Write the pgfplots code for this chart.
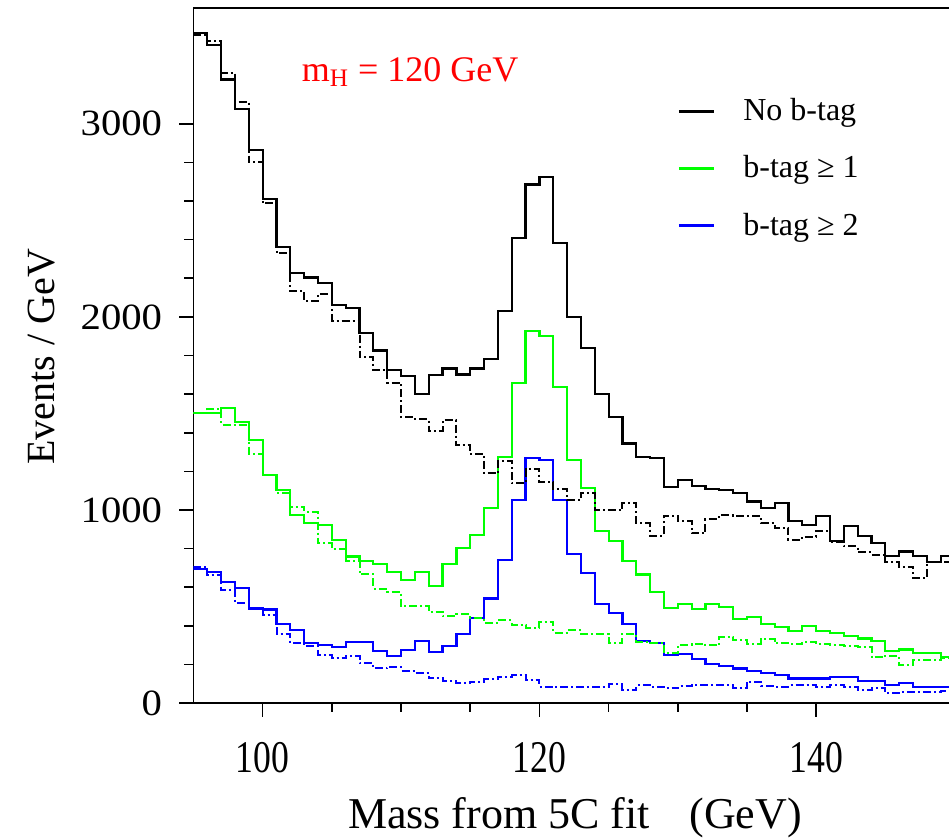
\documentclass[border=0pt]{standalone}
\usepackage{pgfplots}
\pgfplotsset{compat=1.18}
\usepackage{pgfplotstable}
\usepackage{fontspec}
\setmainfont{Liberation Serif}

\pgfplotstableread{
x bs bd gs gd us ud
95 3471 3460 1504 1504 695 707
96 3410 3428 1504 1521 678 661
97 3230 3264 1530 1440 626 587
98 3075 3113 1456 1440 597 518
99 2865 2800 1361 1292 489 494
100 2611 2588 1182 1182 484 454
101 2364 2330 1103 1086 408 356
102 2227 2132 974 1017 377 311
103 2204 2081 931 991 311 294
104 2175 2118 924 828 299 248
105 2060 1981 845 799 291 231
106 2045 1981 759 733 316 243
107 1917 1791 735 666 316 205
108 1826 1723 721 592 270 179
109 1723 1659 678 575 243 187
110 1693 1482 639 501 274 167
111 1602 1470 678 501 322 157
112 1698 1409 604 471 265 127
113 1733 1464 718 449 294 115
114 1702 1335 804 459 356 102
115 1733 1292 872 442 442 110
116 1780 1189 1010 415 541 122
117 2029 1254 1275 428 742 136
118 2407 1137 1659 403 1052 145
119 2686 1212 1926 391 1268 119
120 2726 1146 1900 420 1258 84
121 2382 1108 1637 363 1052 81
122 1998 1052 1258 377 773 81
123 1840 1086 1113 356 673 81
124 1602 1000 890 356 511 84
125 1482 1000 838 311 466 96
126 1344 1034 735 356 408 67
127 1275 931 666 316 322 93
128 1268 867 575 311 311 84
129 1117 971 494 260 248 76
130 1155 941 511 299 253 86
131 1125 879 487 308 226 93
132 1108 953 511 299 201 93
133 1103 974 497 342 191 93
134 1086 971 437 325 179 76
135 1044 971 446 305 167 110
136 1010 931 408 329 157 86
137 1034 907 394 311 145 84
138 941 845 373 305 127 93
139 924 862 398 316 127 93
140 967 890 373 305 127 84
141 841 833 363 299 133 93
142 915 811 346 294 133 84
143 867 781 334 288 115 67
144 828 769 322 236 115 76
145 760 730 270 243 93 50
146 785 707 277 196 102 58
147 760 647 260 222 84 58
148 730 730 260 222 84 58
149 760 730 239 231 84 62
150 760 730 239 231 84 62
}\datatable

\definecolor{hgreen}{RGB}{0,255,0}
\definecolor{hblue}{RGB}{0,0,255}
\definecolor{hred}{RGB}{255,0,0}

\begin{document}
\begin{tikzpicture}
\path[use as bounding box] (-96.75pt,-68pt) rectangle (377.75pt,351.5pt);
\begin{axis}[
  scale only axis,
  width=377.75pt, height=347.5pt,
  at={(0pt,0pt)}, anchor=south west,
  xmin=95, xmax=149.6,
  ymin=0, ymax=3600,
  axis x line=box, axis y line=left,
  axis line style={-, line width=0.9pt, black},
  xtick pos=left, ytick pos=left,
  tick align=outside,
  xtick={100,120,140},
  minor x tick num=3,
  ytick={0,1000,2000,3000},
  minor y tick num=4,
  major tick length=7pt, minor tick length=4.5pt,
  tick style={line width=0.8pt, black},
  /pgf/number format/assume math mode=true,
  scaled y ticks=false,
  yticklabel style={/pgf/number format/1000 sep={}, font=\fontsize{18.5}{18.5}\selectfont, inner sep=0pt, anchor=east, xshift=-8.5pt, xscale=1.1},
  xticklabel style={/pgf/number format/1000 sep={}, font=\fontsize{21}{21}\selectfont, inner sep=0pt, anchor=center, yshift=-20.5pt, xscale=0.85, yscale=1.08},
  xlabel={Mass from 5C fit\hspace{0.9em}(GeV)},
  ylabel={Events / GeV},
  xlabel style={font=\fontsize{22}{22}\selectfont, at={(axis description cs:0.505,0)}, anchor=center, yshift=-57.5pt},
  ylabel style={font=\fontsize{20}{20}\selectfont, at={(axis description cs:-0.2005,0.498)}, anchor=center},
  clip=true,
  legend style={at={(rel axis cs:0.632,0.882)}, anchor=north west, draw=none, fill=none,
    font=\fontsize{16}{16}\selectfont, row sep=12pt,
    /tikz/every odd column/.append style={column sep=12pt}},
  legend cell align=left,
  legend image code/.code={\draw[#1, solid, line width=1.5pt] (0pt,0pt) -- (17.5pt,0pt);},
  every axis plot/.append style={const plot mark left},
]
\addplot[black, line width=1.1pt] table[x=x, y=bs] {\datatable};
\addlegendentry{No b-tag}
\addplot[hgreen, line width=1.1pt] table[x=x, y=gs] {\datatable};
\addlegendentry{b-tag ≥ 1}
\addplot[hblue, line width=1.1pt] table[x=x, y=us] {\datatable};
\addlegendentry{b-tag ≥ 2}
\addplot[black, line width=1pt, dash pattern=on 4pt off 1.5pt on 1pt off 1.5pt, forget plot] table[x=x, y=bd] {\datatable};
\addplot[hgreen, line width=1pt, dash pattern=on 4pt off 1.5pt on 1pt off 1.5pt, forget plot] table[x=x, y=gd] {\datatable};
\addplot[hblue, line width=1pt, dash pattern=on 4pt off 1.5pt on 1pt off 1.5pt, forget plot] table[x=x, y=ud] {\datatable};
\node[anchor=base west, text=hred, font=\fontsize{18}{18}\selectfont, inner sep=0pt] at (axis cs:102.8,3221) {m\textsubscript{H} = 120 GeV};
\end{axis}
\end{tikzpicture}
\end{document}
